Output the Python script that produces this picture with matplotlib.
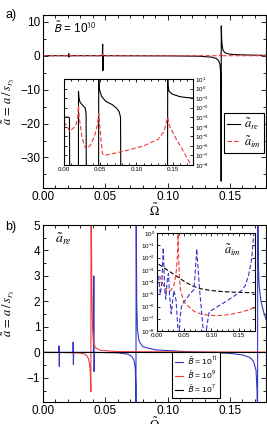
import numpy as np
import matplotlib
matplotlib.use('Agg')
import matplotlib.pyplot as plt
from matplotlib.ticker import MultipleLocator, LogLocator, NullLocator

plt.rcParams['font.family'] = ['Liberation Sans', 'DejaVu Sans']
plt.rcParams['mathtext.fontset'] = 'stix'

# ---- panel a, main: B = 1e10 ----
a_re_x = [0.0, 0.0206, 0.0208, 0.0210, 0.0212, 0.0476, 0.0479, 0.0481, 0.0484,
          0.10, 0.125, 0.135, 0.139, 0.141, 0.142, 0.1425, 0.1428, 0.1430, 0.1431,
          0.1434, 0.1438, 0.1445, 0.146, 0.149, 0.155, 0.165, 0.179]
a_re_y = [0.0, 0.0, 0.6, -0.4, 0.0, 0.0, 3.4, -4.4, 0.0,
          -0.05, -0.15, -0.4, -0.8, -1.5, -2.5, -4.5, -9.0, -37.0, 8.8,
          5.0, 3.0, 1.6, 0.9, 0.5, 0.3, 0.2, 0.1]
a_im_x = [0.0, 0.0205, 0.021, 0.0215, 0.0475, 0.048, 0.0485, 0.142, 0.143, 0.144, 0.179]
a_im_y = [0.0, 0.0, 0.3, 0.0, 0.0, 0.6, 0.0, 0.0, 0.8, 0.0, 0.0]

# ---- panel a, inset (log10 of |a|) ----
ia_re_x = [0.0, 0.007, 0.0075, 0.008, 0.0199, 0.0200, 0.0205, 0.022, 0.025, 0.029,
           0.030, 0.0305, 0.0309, 0.0477, 0.0479, 0.0485, 0.052, 0.058, 0.067, 0.073,
           0.076, 0.078, 0.0785, 0.1428, 0.1431, 0.1435, 0.145, 0.15, 0.16, 0.17, 0.179]
ia_re_e = [-3.0, -3.0, -3.1, -12, -12, -0.3, -0.9, -1.4, -1.7, -2.0,
           -2.3, -2.8, -12, -12, 1.5, 0.0, -0.85, -1.35, -1.7, -2.1,
           -2.4, -3.0, -12, -12, 1.5, 0.2, -0.3, -0.6, -0.85, -0.95, -1.0]
ia_im_x = [0.0, 0.004, 0.008, 0.012, 0.016, 0.019, 0.020, 0.021, 0.025, 0.030,
           0.036, 0.042, 0.046, 0.048, 0.050, 0.053, 0.056, 0.08, 0.11, 0.13,
           0.138, 0.143, 0.146, 0.155, 0.165, 0.175, 0.179]
ia_im_e = [-3.5, -3.9, -4.5, -4.2, -3.9, -3.0, -1.8, -3.0, -5.2, -6.3,
           -6.0, -5.0, -3.8, -2.6, -4.5, -6.8, -7.0, -6.6, -6.0, -5.3,
           -4.5, -3.0, -4.0, -5.3, -6.6, -8.0, -8.6]

# ---- panel b, main ----
b11_x = [0.0, 0.0128, 0.0129, 0.0131, 0.0133, 0.0241, 0.0242, 0.0244, 0.0246,
         0.0405, 0.0408, 0.0410, 0.0413, 0.060, 0.068, 0.071, 0.073, 0.0740, 0.0745,
         0.0746, 0.0748, 0.0752, 0.0758, 0.077, 0.080, 0.09, 0.11, 0.13, 0.15, 0.16,
         0.166, 0.169, 0.1710, 0.1718, 0.1722, 0.1724, 0.1728, 0.1735, 0.175, 0.177, 0.179]
b11_y = [0.0, 0.0, 0.25, -0.55, 0.0, 0.0, 0.4, -0.48, 0.0,
         0.0, 3.0, -0.75, 0.0, -0.02, -0.07, -0.15, -0.3, -0.6, -1.3,
         -2.5, 6.0, 2.0, 0.9, 0.45, 0.22, 0.1, 0.04, 0.0, -0.04, -0.1,
         -0.2, -0.35, -0.7, -1.5, -3.0, 6.0, 3.5, 2.6, 2.0, 1.6, 1.3]
b9_x = [0.0, 0.02, 0.03, 0.033, 0.035, 0.0365, 0.0375, 0.038, 0.0384, 0.0386,
        0.0392, 0.0398, 0.0405, 0.042, 0.046, 0.06, 0.1, 0.179]
b9_y = [0.0, -0.01, -0.03, -0.06, -0.12, -0.25, -0.5, -0.8, -1.55, 6.0,
        2.5, 0.9, 0.4, 0.18, 0.08, 0.03, 0.02, 0.01]
b7_x = [0.0, 0.179]
b7_y = [0.0, 0.0]

# ---- panel b, inset (log10 of |a_im|) ----
ib7_x = [0.003, 0.01, 0.02, 0.03, 0.04, 0.05, 0.06, 0.07, 0.08, 0.10, 0.12, 0.14, 0.16, 0.179]
ib7_e = [-2.55, -2.75, -3.05, -3.35, -3.65, -3.95, -4.2, -4.4, -4.55, -4.7, -4.78, -4.83, -4.86, -4.88]
ib9_x = [0.005, 0.012, 0.018, 0.025, 0.031, 0.035, 0.037, 0.0383, 0.0388, 0.0395, 0.041,
         0.043, 0.049, 0.058, 0.068, 0.08, 0.093, 0.11, 0.124, 0.14, 0.155, 0.17, 0.179]
ib9_e = [-3.5, -4.3, -4.8, -4.7, -4.3, -3.3, -2.3, -0.8, 0.5, -1.5, -3.5,
         -4.6, -5.6, -6.0, -6.4, -6.6, -6.7, -6.75, -6.7, -6.6, -6.45, -6.25, -6.1]
ib11_x = [0.003, 0.006, 0.009, 0.0115, 0.014, 0.016, 0.019, 0.021, 0.023, 0.026, 0.031,
          0.035, 0.038, 0.040, 0.042, 0.045, 0.050, 0.060, 0.068, 0.073, 0.078, 0.082,
          0.087, 0.092, 0.096, 0.105, 0.115, 0.13, 0.143, 0.155, 0.162, 0.168, 0.174, 0.178]
ib11_e = [-3.5, -5.0, -4.0, -1.2, -4.5, -5.4, -3.8, -3.3, -5.0, -6.6, -4.7,
          -5.5, -7.5, -9.0, -7.0, -6.0, -5.6, -5.0, -4.6, -1.3, -4.5, -6.5,
          -9.0, -7.5, -6.4, -6.2, -5.9, -5.5, -5.1, -4.7, -4.3, -3.5, -2.1, 0.1]

RED = '#f03c3c'
BLUE = '#3535c8'
W, H = 267, 424

fig = plt.figure(figsize=(W / 100, H / 100), dpi=100)
ax_a = fig.add_axes([43 / W, 1 - 188 / H, 223 / W, 173 / H])
ax_b = fig.add_axes([43 / W, 1 - 402 / H, 223 / W, 177 / H])
ins_a = fig.add_axes([64 / W, 1 - 165 / H, 129 / W, 86 / H])
ins_b = fig.add_axes([157 / W, 1 - 331 / H, 98 / W, 98 / H])


def style(ax, size, major=3.5, minor=2.0, pad=2):
    ax.tick_params(which='both', direction='in', top=True, right=True, width=0.6,
                   labelsize=size, pad=pad)
    ax.tick_params(which='major', length=major)
    ax.tick_params(which='minor', length=minor)
    for s in ax.spines.values():
        s.set_linewidth(0.8)


# panel a
ax_a.plot(a_re_x, a_re_y, color='black', lw=0.8, label=r'$\tilde{a}_{re}$')
ax_a.plot(a_im_x, a_im_y, color=RED, lw=0.8, ls=(0, (4, 2)), label=r'$\tilde{a}_{im}$')
ax_a.set_xlim(0, 0.179)
ax_a.set_ylim(-39, 12)
ax_a.xaxis.set_major_locator(MultipleLocator(0.05))
ax_a.xaxis.set_minor_locator(MultipleLocator(0.01))
ax_a.yaxis.set_major_locator(MultipleLocator(10))
ax_a.yaxis.set_minor_locator(MultipleLocator(5))
ax_a.xaxis.set_major_formatter(lambda v, p: f'{v:.2f}')
style(ax_a, 8.5)
ax_a.set_xlabel(r'$\tilde{\Omega}$', fontsize=9, labelpad=0)
ax_a.set_ylabel(r'$\tilde{a}\,=\,a\,/\,s_{r_3}$', fontsize=9)
ax_a.yaxis.set_label_coords(-0.115, 0.5)
ax_a.text(0.045, 0.965, r'$\tilde{\mathsf{B}}$ = 10$^{\mathsf{10}}$', transform=ax_a.transAxes,
          fontsize=8.5, va='top', ha='left')
ax_a.legend(loc='lower left', bbox_to_anchor=(0.81, 0.2), fontsize=9, handlelength=1.0,
            handletextpad=0.3, borderpad=0.3, labelspacing=0.2, borderaxespad=0,
            fancybox=False, edgecolor='black', framealpha=1).get_frame().set_linewidth(0.8)

# inset a
ins_a.plot(ia_re_x, np.power(10.0, ia_re_e), color='black', lw=0.8)
ins_a.plot(ia_im_x, np.power(10.0, ia_im_e), color=RED, lw=0.8, ls=(0, (4, 2)))
ins_a.set_yscale('log')
ins_a.set_xlim(0, 0.178)
ins_a.set_ylim(1e-8, 10)
ins_a.xaxis.set_major_locator(MultipleLocator(0.05))
ins_a.xaxis.set_minor_locator(MultipleLocator(0.01))
ins_a.xaxis.set_major_formatter(lambda v, p: f'{v:.2f}')
ins_a.yaxis.set_major_locator(LogLocator(base=10, numticks=20))
ins_a.yaxis.set_minor_locator(NullLocator())
style(ins_a, 4.5, major=2.5, minor=1.5, pad=1.5)
ins_a.tick_params(axis='y', labelleft=False, labelright=True)

# panel b
ax_b.plot(b11_x, b11_y, color=BLUE, lw=0.8, label=r'$\tilde{\mathsf{B}}$ = 10$^{\mathsf{11}}$')
ax_b.plot(b9_x, b9_y, color=RED, lw=0.8, label=r'$\tilde{\mathsf{B}}$ = 10$^{\mathsf{9}}$')
ax_b.plot(b7_x, b7_y, color='black', lw=0.8, label=r'$\tilde{\mathsf{B}}$ = 10$^{\mathsf{7}}$')
ax_b.set_xlim(0, 0.179)
ax_b.set_ylim(-1.95, 5)
ax_b.xaxis.set_major_locator(MultipleLocator(0.05))
ax_b.xaxis.set_minor_locator(MultipleLocator(0.01))
ax_b.yaxis.set_major_locator(MultipleLocator(1))
ax_b.yaxis.set_minor_locator(MultipleLocator(0.5))
ax_b.xaxis.set_major_formatter(lambda v, p: f'{v:.2f}')
style(ax_b, 8.5)
ax_b.set_xlabel(r'$\tilde{\Omega}$', fontsize=9, labelpad=0)
ax_b.set_ylabel(r'$\tilde{a}\,=\,a\,/\,s_{r_3}$', fontsize=9)
ax_b.yaxis.set_label_coords(-0.115, 0.5)
ax_b.text(0.055, 0.965, r'$\tilde{a}_{re}$', transform=ax_b.transAxes,
          fontsize=10, va='top', ha='left')
ax_b.legend(loc='lower left', bbox_to_anchor=(0.58, 0.025), fontsize=6, handlelength=1.0,
            handletextpad=0.4, borderpad=0.3, labelspacing=0.25, borderaxespad=0,
            fancybox=False, edgecolor='black', framealpha=1).get_frame().set_linewidth(0.8)

# inset b
ins_b.plot(ib7_x, np.power(10.0, ib7_e), color='black', lw=0.8, ls=(0, (4, 2)))
ins_b.plot(ib9_x, np.power(10.0, ib9_e), color=RED, lw=0.8, ls=(0, (4, 2)))
ins_b.plot(ib11_x, np.power(10.0, ib11_e), color=BLUE, lw=0.8, ls=(0, (4, 2)))
ins_b.set_yscale('log')
ins_b.set_xlim(0, 0.18)
ins_b.set_ylim(1e-8, 1)
ins_b.xaxis.set_major_locator(MultipleLocator(0.05))
ins_b.xaxis.set_minor_locator(MultipleLocator(0.01))
ins_b.xaxis.set_major_formatter(lambda v, p: f'{v:.2f}')
ins_b.yaxis.set_major_locator(LogLocator(base=10, numticks=20))
ins_b.yaxis.set_minor_locator(NullLocator())
style(ins_b, 4.5, major=2.5, minor=1.5, pad=1.5)
ins_b.text(0.68, 0.9, r'$\tilde{a}_{im}$', transform=ins_b.transAxes,
           fontsize=9, va='top', ha='left')

fig.text(5 / W, 1 - 15 / H, 'a)', fontsize=9, va='center', ha='left')
fig.text(5 / W, 1 - 227 / H, 'b)', fontsize=9, va='center', ha='left')

fig.savefig('out.png', dpi=100)
